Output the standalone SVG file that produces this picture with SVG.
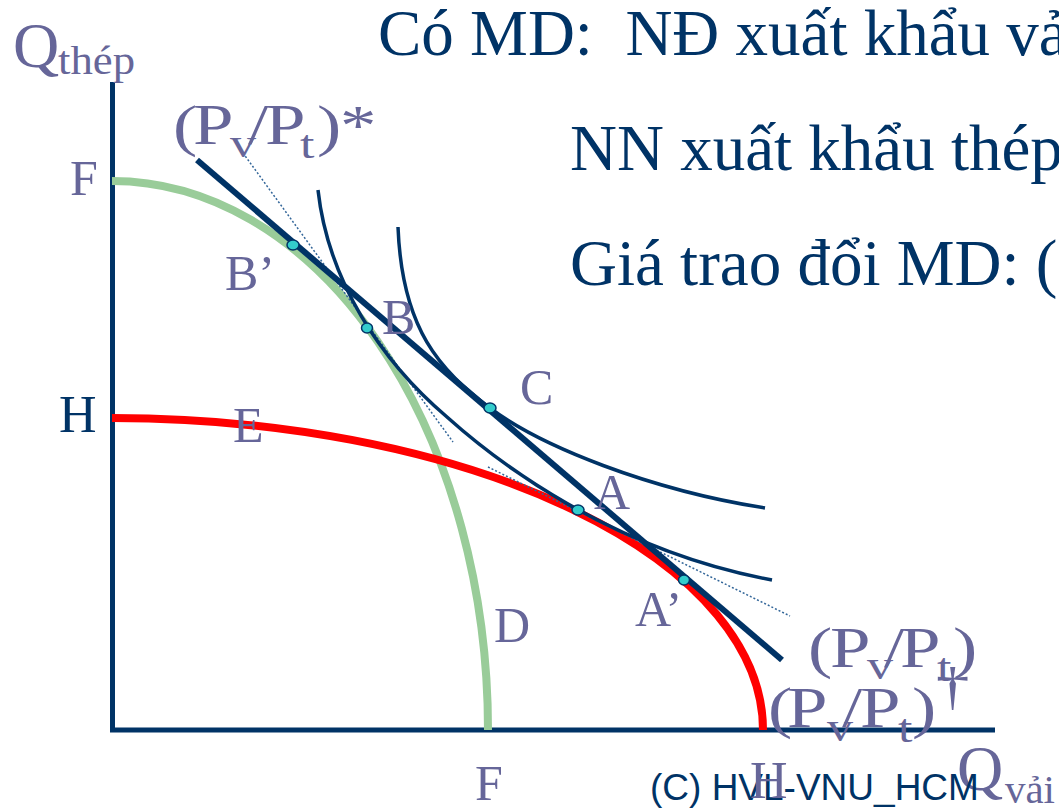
<svg xmlns="http://www.w3.org/2000/svg" width="1059" height="810" viewBox="0 0 1059 810">
<style>
.navy{fill:none;stroke:#003366;stroke-linecap:butt}
.ic{fill:none;stroke:#003366;stroke-width:3.5}
.dot{fill:none;stroke:#336699;stroke-width:1.5;stroke-dasharray:2 2}
.pt{fill:#33CCCC;stroke:#003366;stroke-width:1.5}
.lbl{font-family:"Liberation Serif","Times New Roman",serif;fill:#666699}
.title{font-family:"Liberation Serif","Times New Roman",serif;fill:#003366;font-size:65px;white-space:pre}
</style>
<rect width="1059" height="810" fill="#ffffff"/>

<g id="axes">
<line class="navy" x1="112.5" y1="82" x2="112.5" y2="732" stroke-width="5"/>
<line class="navy" x1="110" y1="730" x2="995" y2="730" stroke-width="5"/>
</g>

<g id="ppf-green">
<path d="M112,181 A376,549 0 0 1 488,730" fill="none" stroke="#99CC99" stroke-width="8"/>
</g>

<g id="ppf-red">
<path d="M112,418 A651,312 0 0 1 763,730" fill="none" stroke="#FF0000" stroke-width="8"/>
</g>

<g id="connectors">
<line class="dot" x1="243" y1="153" x2="453" y2="442"/>
<line class="dot" x1="488" y1="467" x2="790" y2="616"/>
</g>

<g id="ic1">
<path class="ic" d="M318,190 C328,280 380,360 447,417 C495,460 610,550 772,580"/>
</g>

<g id="ic2">
<path class="ic" d="M398,227 C402,330 440,370 490,408 C540,446 650,490 765,508"/>
</g>

<g id="price-line">
<line class="navy" x1="197" y1="160" x2="782" y2="660" stroke-width="6"/>
</g>

<g id="points">
<ellipse class="pt" cx="293" cy="245" rx="6" ry="5"/>
<ellipse class="pt" cx="367" cy="328" rx="5.5" ry="5" stroke="#ffffff"/>
<ellipse class="pt" cx="490" cy="408" rx="6" ry="5"/>
<ellipse class="pt" cx="578" cy="510" rx="6" ry="5" stroke="#ffffff"/>
<ellipse class="pt" cx="684" cy="580" rx="5.5" ry="5"/>
</g>

<g id="title">
<text class="title" x="378" y="55">Có MD:  NĐ xuất khẩu vả</text>
<text class="title" x="570" y="170">NN xuất khẩu thép</text>
<text class="title" x="570" y="285">Giá trao đổi MD: (</text>
</g>

<g id="axis-labels">
<text class="lbl" x="13" y="67" font-size="64">Q</text>
<text class="lbl" x="58" y="74" font-size="40" textLength="77" lengthAdjust="spacingAndGlyphs">thép</text>
<text class="lbl" x="957" y="790" font-size="64">Q</text>
<text class="lbl" x="1005" y="803" font-size="40" textLength="50" lengthAdjust="spacingAndGlyphs">vải</text>
<text class="lbl" x="70" y="195" font-size="50">F</text>
<text x="59" y="432" font-size="52" font-family="Liberation Serif, Times New Roman, serif" fill="#003366">H</text>
<text class="lbl" x="475" y="800" font-size="50">F</text>
</g>

<g id="copyright">
<text x="650" y="800" font-size="37" font-family="Liberation Sans, Arial, sans-serif" fill="#003366">(C) HVL-VNU_HCM</text>
</g>

<g id="point-labels">
<text class="lbl" x="750" y="798" font-size="52">H</text>
<text class="lbl" x="233" y="442" font-size="50">E</text>
<text class="lbl" x="225" y="290" font-size="50">B’</text>
<text class="lbl" x="382" y="334" font-size="50">B</text>
<text class="lbl" x="520" y="404" font-size="50">C</text>
<text class="lbl" x="594" y="509" font-size="50">A</text>
<text class="lbl" x="635" y="626" font-size="50">A’</text>
<text class="lbl" x="494" y="642" font-size="50">D</text>
</g>

<g id="price-label-star" transform="translate(173 0) scale(1.3 1)">
<text class="lbl" font-size="56"><tspan x="0" y="145">(</tspan><tspan x="15.4" y="144">P</tspan><tspan x="43.8" y="157" font-size="40">v</tspan><tspan x="57.7" y="144">/</tspan><tspan x="70.8" y="144">P</tspan><tspan x="97.7" y="158" font-size="40">t</tspan><tspan x="110.8" y="145">)</tspan><tspan x="128.5" y="145">*</tspan></text>
</g>

<g id="price-label-upper" transform="translate(808 0) scale(1.3 1)">
<text class="lbl" font-size="56"><tspan x="0" y="667">(</tspan><tspan x="16.9" y="667">P</tspan><tspan x="45.4" y="679" font-size="40">v</tspan><tspan x="58.5" y="667">/</tspan><tspan x="70.8" y="667">P</tspan><tspan x="99.2" y="681" font-size="40">t</tspan><tspan x="111.5" y="667">)</tspan></text>
</g>

<g id="price-label-lower" transform="translate(768 0) scale(1.3 1)">
<text class="lbl" font-size="56"><tspan x="0" y="727">(</tspan><tspan x="14.6" y="727">P</tspan><tspan x="45.4" y="741" font-size="40">v</tspan><tspan x="56.9" y="727">/</tspan><tspan x="70.8" y="727">P</tspan><tspan x="100" y="742" font-size="40">t</tspan><tspan x="110.8" y="727">)</tspan><tspan x="129" y="704" font-size="52">†</tspan></text>
</g>
</svg>
